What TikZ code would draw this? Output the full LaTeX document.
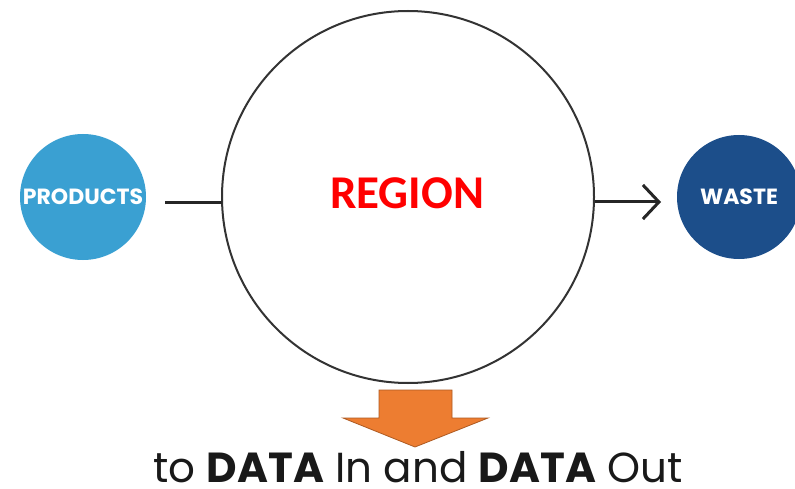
\documentclass[tikz,border=0pt]{standalone}
\usepackage{fontspec}
\setmainfont{Poppins}
\newfontfamily\carlito{Carlito}
\usetikzlibrary{arrows.meta}
\definecolor{prodblue}{RGB}{58,160,210}
\definecolor{wasteblue}{RGB}{28,78,138}
\definecolor{regionred}{RGB}{255,0,0}
\definecolor{arrorange}{RGB}{237,125,49}
\definecolor{arrborder}{RGB}{174,90,33}
\tikzset{
  bubble/.style={circle, inner sep=0pt, text=white, font=\bfseries\fontsize{22}{22}\selectfont},
  conn/.style={line width=3pt, black!85},
}
\begin{document}
\begin{tikzpicture}[x=1pt,y=-1pt]
\useasboundingbox (0,0) rectangle (795,489);
\fill[white] (0,0) rectangle (795,489);
% big region circle
\node[circle, draw=black!80, line width=2pt, minimum size=372pt, inner sep=0pt] (region) at (408,197) {};
\node[text=regionred, font=\carlito\bfseries\fontsize{47}{47}\selectfont] (rlabel) at (407,193) {REGION};
% products
\node[bubble, fill=prodblue, minimum size=126pt] (prod) at (83,197) {PRODUCTS};
% waste
\node[bubble, fill=wasteblue, minimum size=124pt] (waste) at (739,197) {WASTE};
% connectors
\coordinate (pin) at (165,203);
\coordinate (rin) at (222,203);
\draw[conn] (pin) -- (rin);
\coordinate (rout) at (595,202);
\coordinate (aout) at (661,202);
\draw[conn, -{Straight Barb[length=16pt,width=34pt,line width=3pt]}] (rout) -- (aout);
% orange down arrow
\draw[draw=arrborder, fill=arrorange, line width=0.8pt, line join=miter]
  (379,390) -- (452,390) -- (452,418) -- (488,418) -- (415,447) -- (343,418) -- (379,418) -- cycle;
% bottom text
\node[anchor=base, font=\fontsize{42}{42}\selectfont, text=black!90, inner sep=0pt] (caption) at (418,482) {to \textbf{DATA} In and \textbf{DATA} Out};
\end{tikzpicture}
\end{document}
